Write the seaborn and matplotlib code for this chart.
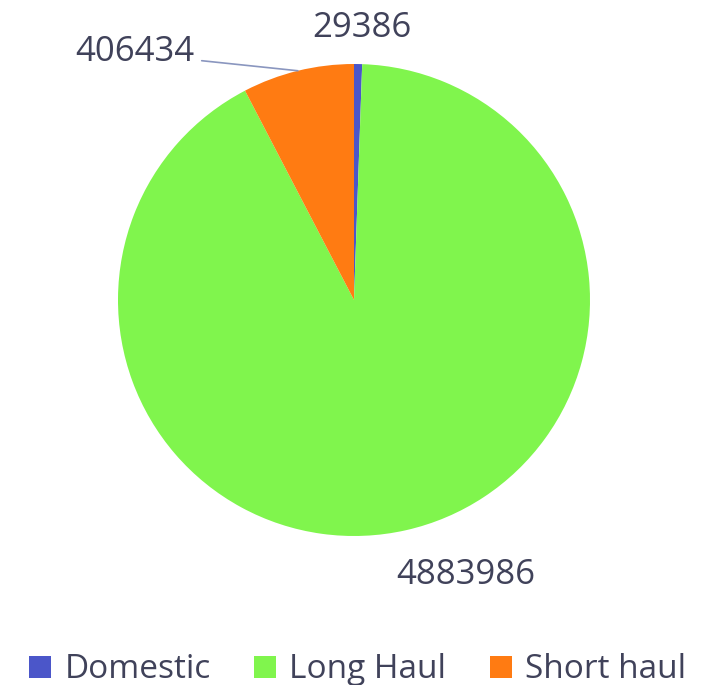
import numpy as np
import matplotlib
matplotlib.use("Agg")
import matplotlib.pyplot as plt
import seaborn as sns

categories = ["Domestic", "Long Haul", "Short haul"]
values = [29386, 4883986, 406434]
colors = ["#4b56c9", "#80f54d", "#ff7b12"]

sns.set_theme(style="white")
plt.rcParams["font.family"] = ["Open Sans", "DejaVu Sans"]
text_color = "#40425a"

fig = plt.figure(figsize=(7.11, 6.85), dpi=100)
ax = fig.add_axes([0, 0, 1, 1])

wedges, _ = ax.pie(values, colors=colors, startangle=90, counterclock=False,
                   radius=1.0, wedgeprops=dict(linewidth=0))

# pie radius ~236 px, centre at (354, 300) px from top-left
r_px = 236
ax.set_xlim(-354 / r_px, (711 - 354) / r_px)
ax.set_ylim(-(685 - 300) / r_px, 300 / r_px)
ax.set_aspect("equal")
ax.axis("off")

# label centres per slice
label_pos = {"Domestic": (0.034, 1.153), "Long Haul": (0.475, -1.165),
             "Short haul": (-0.928, 1.05)}
for w, cat, v in zip(wedges, categories, values):
    tx, ty = label_pos[cat]
    if cat == "Short haul":
        mid = np.deg2rad((w.theta1 + w.theta2) / 2)
        ex, ey = np.cos(mid), np.sin(mid)
        ax.annotate(str(v), xy=(ex, ey), xytext=(tx, ty), ha="center", va="center",
                    fontsize=25, color=text_color,
                    arrowprops=dict(arrowstyle="-", color="#8a96bf", lw=1.2,
                                    shrinkA=0, shrinkB=0,
                                    relpos=(1.06, 0.25)))
    else:
        ax.text(tx, ty, str(v), ha="center", va="center", fontsize=25, color=text_color)

fig.legend(wedges, categories, loc="center", bbox_to_anchor=(0.503, 15 / 685),
           ncol=3, frameon=False, fontsize=24, handlelength=0.66, handleheight=0.66,
           handletextpad=0.4, columnspacing=1.3, labelcolor=text_color,
           borderpad=0, borderaxespad=0)

fig.savefig("out.png", dpi=100)
